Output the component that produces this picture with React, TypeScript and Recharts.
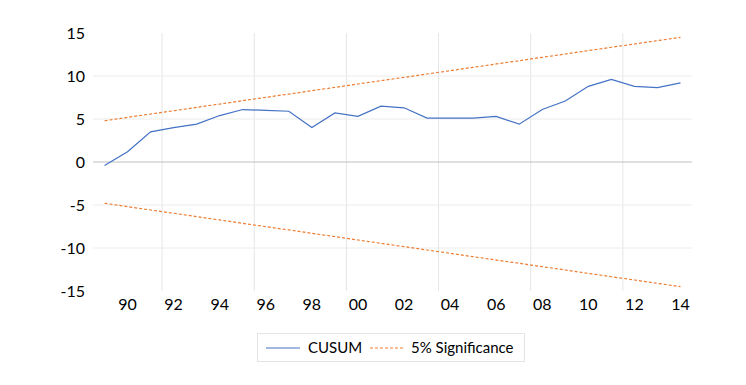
import React from 'react';
import { LineChart, Line, XAxis, YAxis, ReferenceLine } from 'recharts';

// years on the x axis
const years = [
  1989, 1990, 1991, 1992, 1993, 1994, 1995, 1996, 1997, 1998, 1999, 2000, 2001,
  2002, 2003, 2004, 2005, 2006, 2007, 2008, 2009, 2010, 2011, 2012, 2013, 2014,
];

// CUSUM statistic
const cusum = [
  -0.4, 1.2, 3.5, 4.0, 4.4, 5.4, 6.1, 6.0, 5.9, 4.0, 5.7, 5.3, 6.5,
  6.3, 5.1, 5.1, 5.1, 5.3, 4.4, 6.1, 7.1, 8.8, 9.6, 8.8, 8.65, 9.2,
];

// 5% significance bounds
const upper = [
  4.8, 5.19, 5.58, 5.96, 6.35, 6.74, 7.13, 7.52, 7.9, 8.29, 8.68, 9.07, 9.46,
  9.84, 10.23, 10.62, 11.01, 11.4, 11.78, 12.17, 12.56, 12.95, 13.34, 13.72, 14.11, 14.5,
];
const lower = [
  -4.8, -5.19, -5.58, -5.96, -6.35, -6.74, -7.13, -7.52, -7.9, -8.29, -8.68, -9.07, -9.46,
  -9.84, -10.23, -10.62, -11.01, -11.4, -11.78, -12.17, -12.56, -12.95, -13.34, -13.72, -14.11, -14.5,
];

const xTicks = [1990, 1992, 1994, 1996, 1998, 2000, 2002, 2004, 2006, 2008, 2010, 2012, 2014];
const yTicks = [-15, -10, -5, 0, 5, 10, 15];
const vGrid = [1991.5, 1995.5, 1999.5, 2003.5, 2007.5, 2011.5];
const hGrid = [-10, -5, 5, 10];

const data = years.map((year, i) => ({
  year,
  cusum: cusum[i],
  upper: upper[i],
  lower: lower[i],
}));

const FONT = 'Lato, "Open Sans", sans-serif';
const BLUE = '#4472C4';
const ORANGE = '#ED7D31';

const App = () => {
  return (
    <div style={{ position: 'relative', width: 730, height: 369, fontFamily: FONT }}>
      <LineChart
        width={730}
        height={369}
        data={data}
        margin={{ top: 25, right: 46, left: 0, bottom: 56 }}
      >
        {vGrid.map((x) => (
          <ReferenceLine key={'v' + x} x={x} stroke="#e6e6e6" strokeWidth={1} />
        ))}
        {hGrid.map((y) => (
          <ReferenceLine key={'h' + y} y={y} stroke="#ececec" strokeWidth={1} />
        ))}
        <ReferenceLine y={0} stroke="#bfbfbf" strokeWidth={1} />
        <XAxis
          dataKey="year"
          type="number"
          domain={[1988.5, 2014.5]}
          ticks={xTicks}
          tickFormatter={(v) => String(v).slice(2)}
          axisLine={false}
          tickLine={false}
          tick={{ fill: '#000', fontSize: 16, fontFamily: FONT }}
          height={30}
        />
        <YAxis
          type="number"
          domain={[-15, 15]}
          ticks={yTicks}
          axisLine={false}
          tickLine={false}
          tick={{ fill: '#000', fontSize: 16, fontFamily: FONT }}
          width={85}
        />
        <Line
          dataKey="cusum"
          stroke={BLUE}
          strokeWidth={1.2}
          dot={false}
          isAnimationActive={false}
        />
        <Line
          dataKey="upper"
          stroke={ORANGE}
          strokeWidth={1.2}
          strokeDasharray="3 2"
          dot={false}
          isAnimationActive={false}
        />
        <Line
          dataKey="lower"
          stroke={ORANGE}
          strokeWidth={1.2}
          strokeDasharray="3 2"
          dot={false}
          isAnimationActive={false}
        />
      </LineChart>
      <div
        style={{
          position: 'absolute',
          left: 249,
          top: 325,
          width: 268,
          height: 29,
          border: '1px solid #e4e4e4',
          fontSize: 15,
          color: '#000',
          boxSizing: 'border-box',
        }}
      >
        <svg width={34} height={4} style={{ position: 'absolute', left: 8, top: 12 }}>
          <line x1={0} y1={2} x2={34} y2={2} stroke={BLUE} strokeWidth={1.2} />
        </svg>
        <span style={{ position: 'absolute', left: 50, top: 4 }}>CUSUM</span>
        <svg width={33} height={4} style={{ position: 'absolute', left: 112, top: 12 }}>
          <line x1={0} y1={2} x2={33} y2={2} stroke={ORANGE} strokeWidth={1.2} strokeDasharray="3 2" />
        </svg>
        <span style={{ position: 'absolute', left: 153, top: 4 }}>5% Significance</span>
      </div>
    </div>
  );
};

export default App;
